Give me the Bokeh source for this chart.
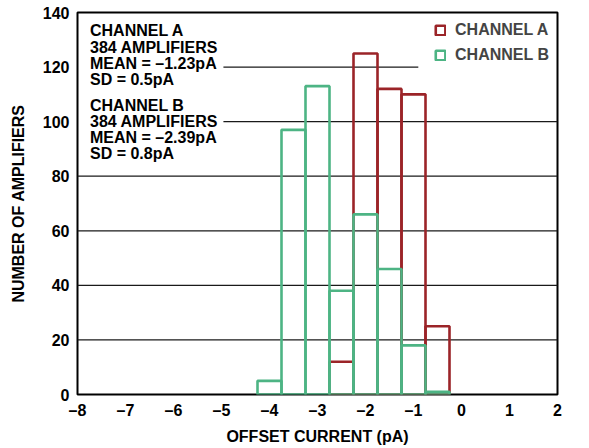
import numpy as np
from bokeh.plotting import figure
from bokeh.models import Legend, LegendItem, Label, Range1d, FixedTicker, ColumnDataSource
from bokeh.core.properties import value
from bokeh.embed import file_html
from bokeh.resources import INLINE

# ---- data ----
bin_centers_a = [-2.5, -2.0, -1.5, -1.0, -0.5]
counts_a = [12, 125, 112, 110, 25]
bin_centers_b = [-4.0, -3.5, -3.0, -2.5, -2.0, -1.5, -1.0, -0.5]
counts_b = [5, 97, 113, 38, 66, 46, 18, 1]
bin_width = 0.5

x_ticks = [-8, -7, -6, -5, -4, -3, -2, -1, 0, 1, 2]
x_tick_labels = ["\u20138", "\u20137", "\u20136", "\u20135", "\u20134", "\u20133",
                 "\u20132", "\u20131", "0", "1", "2"]
y_ticks = [0, 20, 40, 60, 80, 100, 120, 140]

stats_lines = ["CHANNEL A", "384 AMPLIFIERS", "MEAN = \u20131.23pA", "SD = 0.5pA",
               "CHANNEL B", "384 AMPLIFIERS", "MEAN = \u20132.39pA", "SD = 0.8pA"]

RED = "#9B2428"
GREEN = "#4DB484"
FONT = "Liberation Sans"
FS = "16px"

p = figure(frame_width=480, frame_height=382, output_backend="svg", toolbar_location=None,
           x_range=Range1d(-8, 2), y_range=Range1d(0, 140),
           min_border_left=77, min_border_top=12, min_border_right=30, min_border_bottom=44)
p.background_fill_color = "white"
p.border_fill_color = "white"
p.outline_line_color = "black"
p.outline_line_width = 2
p.xgrid.visible = False
p.ygrid.visible = False

# grid lines (some interrupted by the text block / legend)
grid_y = [20, 40, 60, 80, 100, 120]
grid_x0 = [-8, -8, -8, -8, -4.96, -4.96]
grid_x1 = [2, 2, 2, 2, 2, -0.9]
p.segment(x0=grid_x0, y0=grid_y, x1=grid_x1, y1=grid_y, line_color="#1a1a1a", line_width=1.3)

# histograms
src_a = ColumnDataSource(dict(left=[c - bin_width / 2 for c in bin_centers_a],
                              right=[c + bin_width / 2 for c in bin_centers_a],
                              top=counts_a, bottom=[0] * len(counts_a)))
src_b = ColumnDataSource(dict(left=[c - bin_width / 2 for c in bin_centers_b],
                              right=[c + bin_width / 2 for c in bin_centers_b],
                              top=counts_b, bottom=[0] * len(counts_b)))
ra = p.quad(left="left", right="right", top="top", bottom="bottom", source=src_a,
            fill_alpha=0, line_color=RED, line_width=2.6)
rb = p.quad(left="left", right="right", top="top", bottom="bottom", source=src_b,
            fill_alpha=0, line_color=GREEN, line_width=2.6)

# axes
for ax in (p.xaxis[0], p.yaxis[0]):
    ax.axis_line_color = None
    ax.major_tick_line_color = None
    ax.minor_tick_line_color = None
    ax.major_tick_out = 0
    ax.major_tick_in = 0
    ax.minor_tick_out = 0
    ax.minor_tick_in = 0
    ax.major_label_text_font = FONT
    ax.major_label_text_font_style = "bold"
    ax.major_label_text_font_size = FS
    ax.major_label_text_color = "black"
    ax.axis_label_text_font = FONT
    ax.axis_label_text_font_style = "bold"
    ax.axis_label_text_font_size = FS
    ax.axis_label_text_color = "black"

p.xaxis.ticker = FixedTicker(ticks=x_ticks)
p.xaxis.major_label_overrides = {t: l for t, l in zip(x_ticks, x_tick_labels)}
p.yaxis.ticker = FixedTicker(ticks=y_ticks)
p.xaxis.axis_label = "OFFSET CURRENT (pA)"
p.yaxis.axis_label = "NUMBER OF AMPLIFIERS"
p.xaxis.major_label_standoff = 7
p.xaxis.axis_label_standoff = 6
p.yaxis.major_label_standoff = 8
p.yaxis.axis_label_standoff = 13

# stats text block
text_y = [133.3, 127.3, 121.3, 115.3, 105.9, 100.0, 94.1, 88.2]
p.text(x=[-7.74] * len(stats_lines), y=text_y, text=stats_lines,
       text_font=value(FONT), text_font_style="bold", text_font_size=FS,
       text_baseline="middle", text_align="left", text_color="black")

# legend
legend = Legend(items=[LegendItem(label="CHANNEL A", renderers=[ra]),
                       LegendItem(label="CHANNEL B", renderers=[rb])],
                location="top_right")
legend.label_text_font = FONT
legend.label_text_font_style = "bold"
legend.label_text_font_size = FS
legend.glyph_width = 12
legend.glyph_height = 12
legend.label_standoff = 9
legend.label_height = 20
legend.spacing = 5
legend.padding = 8
legend.margin = 0
legend.border_line_alpha = 0
legend.background_fill_alpha = 0
p.add_layout(legend)

# figure number
p.add_layout(Label(x=2.54, y=-15, text="017", angle=np.pi / 2, text_font=FONT,
                   text_font_size="8px", text_color="#444444",
                   text_align="center", text_baseline="middle"))

open("out.html", "w").write(file_html(p, INLINE))
